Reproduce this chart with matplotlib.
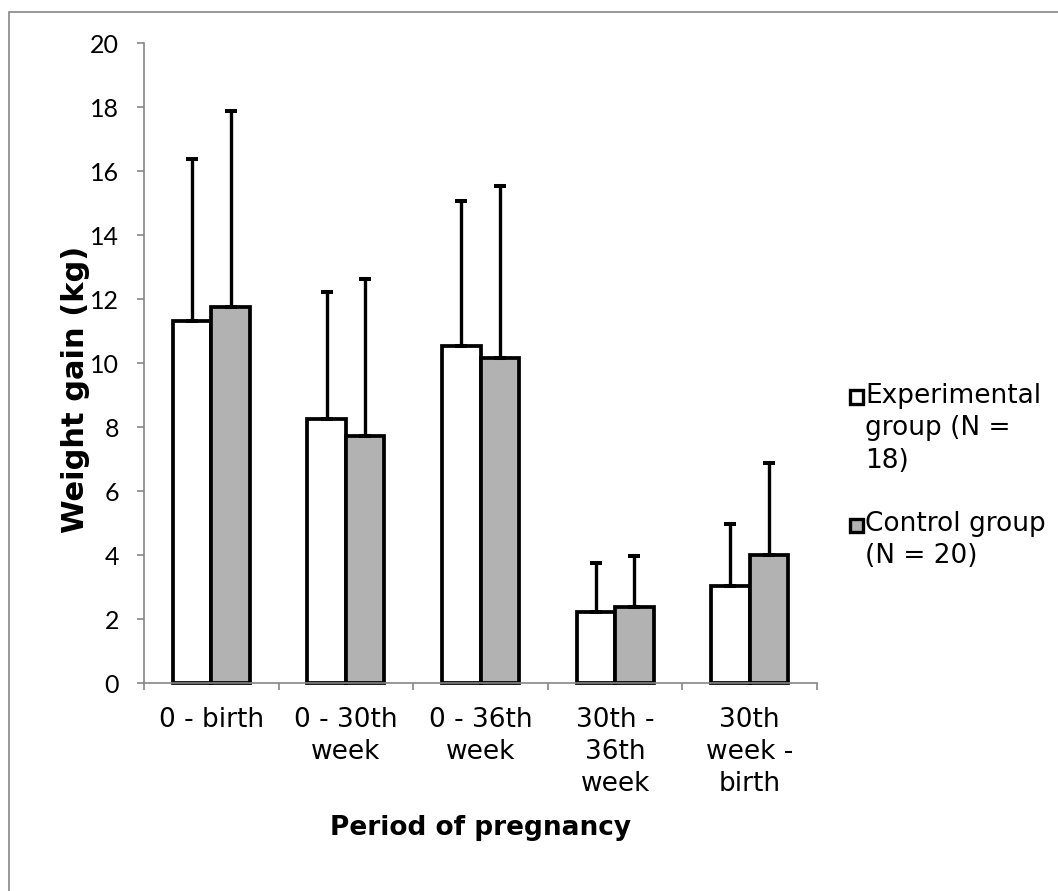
import numpy as np
import matplotlib.pyplot as plt
from matplotlib.patches import Rectangle

# weight gain per period of pregnancy, mean and upper SD
periods = ['0 - birth', '0 - 30th\nweek', '0 - 36th\nweek',
           '30th -\n36th\nweek', '30th\nweek -\nbirth']
exp_mean = [11.33, 8.25, 10.54, 2.24, 3.04]
exp_sd = [5.06, 3.98, 4.54, 1.53, 1.94]
ctrl_mean = [11.77, 7.73, 10.17, 2.39, 4.02]
ctrl_sd = [6.12, 4.90, 5.36, 1.59, 2.88]
legend_labels = ['Experimental\ngroup (N =\n18)', 'Control group\n(N = 20)']

W, H = 1058, 891
fig = plt.figure(figsize=(W / 100, H / 100), dpi=100)
grey = '#868686'

# chart area frame (only top/left edges fall inside the image)
fig.patches.append(Rectangle((9 / W, -0.1), 1.2, 1 - 12 / H + 0.1,
                             transform=fig.transFigure, fill=False,
                             edgecolor=grey, linewidth=1.2))

ax = fig.add_axes([144 / W, 1 - 683.3 / H, 673 / W, 640 / H])

x = np.arange(len(periods))
w = 0.2857
zeros = np.zeros(len(periods))
err_kw = dict(ecolor='black', elinewidth=2.4, capsize=4, capthick=2.9)

ax.bar(x - w / 2, exp_mean, w, color='white', edgecolor='black',
       linewidth=2.7, yerr=[zeros, exp_sd], error_kw=err_kw, clip_on=False)
ax.bar(x + w / 2, ctrl_mean, w, color='#b2b2b2', edgecolor='black',
       linewidth=2.7, yerr=[zeros, ctrl_sd], error_kw=err_kw, clip_on=False)

ax.set_xlim(-0.5, len(periods) - 0.5)
ax.set_ylim(0, 20)
ax.set_yticks(np.arange(0, 21, 2))

for s in ['top', 'right']:
    ax.spines[s].set_visible(False)
for s in ['left', 'bottom']:
    ax.spines[s].set_color(grey)
    ax.spines[s].set_linewidth(1.2)

ax.tick_params(axis='y', direction='out', length=5, width=1.2, color=grey,
               pad=13, labelsize=18)
for lbl in ax.get_yticklabels():
    lbl.set_fontfamily('Lato')

ax.set_xticks(x)
ax.set_xticklabels(periods, fontsize=19, linespacing=1.3)
ax.set_xticks(np.arange(-0.5, len(periods)), minor=True)
ax.tick_params(axis='x', which='major', length=0, pad=17)
ax.tick_params(axis='x', which='minor', direction='out', length=5,
               width=1.2, color=grey)

ax.set_xlabel('Period of pregnancy', fontsize=19, fontweight='bold')
ax.xaxis.set_label_coords(0.5, (683.3 - 828) / 640)
ax.xaxis.label.set_va('center')

ax.set_ylabel('Weight gain (kg)', fontsize=22, fontweight='bold')
ax.yaxis.set_label_coords((76 - 144) / 673, (683.3 - 389) / 640)
ax.yaxis.label.set_va('center')

# legend with handles aligned to the first text line
legend_y = [397, 525]
legend_fill = ['white', '#b2b2b2']
for y, fc, txt in zip(legend_y, legend_fill, legend_labels):
    fig.patches.append(Rectangle((850 / W, 1 - (y + 6.5) / H), 13 / W, 13 / H,
                                 transform=fig.transFigure, facecolor=fc,
                                 edgecolor='black', linewidth=2.4))
    fig.text(865 / W, 1 - (y - 14) / H, txt, fontsize=19, va='top',
             ha='left', linespacing=1.32)

fig.savefig('out.png', dpi=100)
